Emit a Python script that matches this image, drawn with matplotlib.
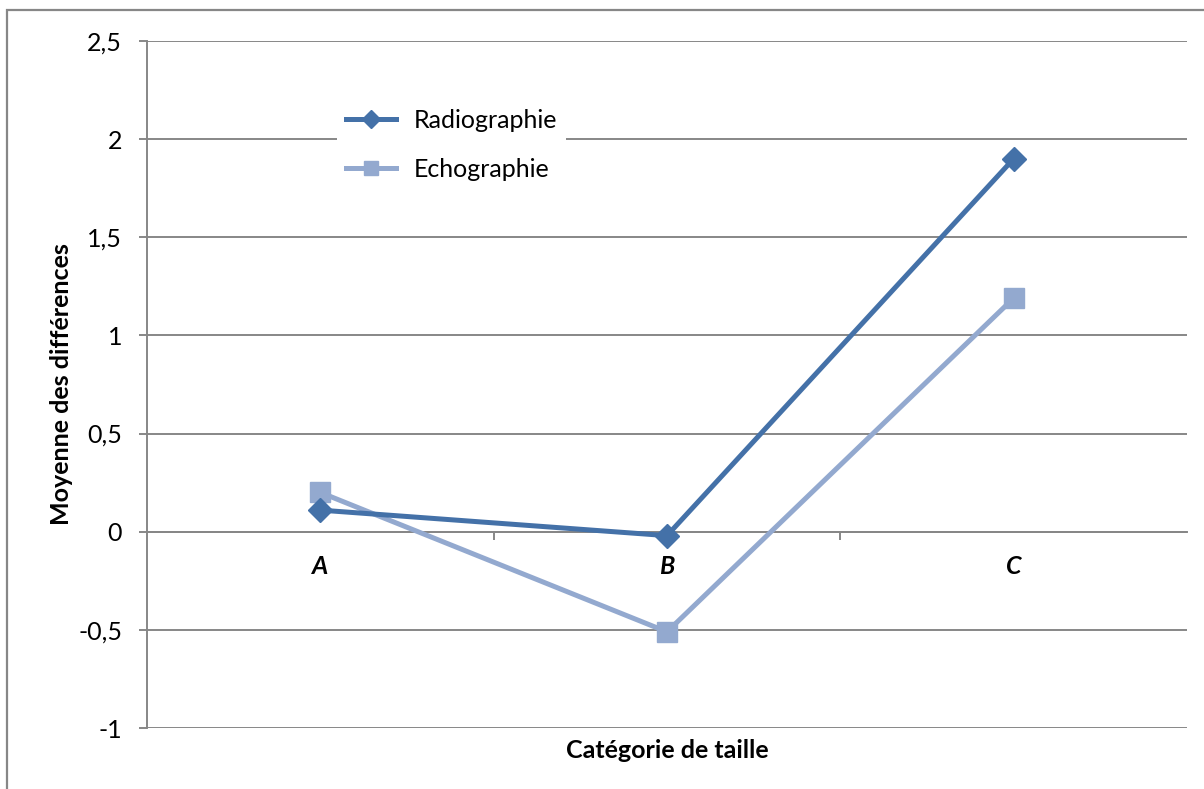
import matplotlib
matplotlib.use("Agg")
import matplotlib.pyplot as plt
from matplotlib.patches import Rectangle

# Data
categories = ["A", "B", "C"]
radiographie = [0.11, -0.02, 1.90]
echographie = [0.20, -0.51, 1.19]
y_ticks = [-1, -0.5, 0, 0.5, 1, 1.5, 2, 2.5]
y_tick_labels = ["-1", "-0,5", "0", "0,5", "1", "1,5", "2", "2,5"]

plt.rcParams["font.family"] = ["Lato", "DejaVu Sans"]

W, H = 1204, 789
fig = plt.figure(figsize=(W / 100, H / 100), dpi=100)
fig.patch.set_facecolor("white")

grid_col = "#878787"
radio_col = "#4471A8"
echo_col = "#93A9CF"
fs = 18

# Outer chart frame (top and left edges)
fig.add_artist(Rectangle((7 / W, -0.2), 1.5, 1.2 - 10 / H, transform=fig.transFigure,
                         fill=False, edgecolor=grid_col, linewidth=1.6))

left, right, top, bottom = 147, 1187, 41, 728
ax = fig.add_axes([left / W, 1 - bottom / H, (right - left) / W, (bottom - top) / H])

x = list(range(len(categories)))
ax.set_xlim(-0.5, len(categories) - 0.5)
ax.set_ylim(-1, 2.5)

ax.set_yticks(y_ticks)
ax.set_yticklabels(y_tick_labels, fontsize=fs)
ax.yaxis.grid(True, color=grid_col, linewidth=1.4)
ax.set_axisbelow(True)
ax.tick_params(axis="y", length=6, width=1.4, color=grid_col, pad=12)

for s in ["top", "right"]:
    ax.spines[s].set_visible(False)
ax.spines["left"].set_color(grid_col)
ax.spines["left"].set_linewidth(1.4)
ax.spines["bottom"].set_position(("data", 0))
ax.spines["bottom"].set_color(grid_col)
ax.spines["bottom"].set_linewidth(1.4)

# Category boundaries as ticks on the zero line, category names as minor labels
ax.set_xticks([i + 0.5 for i in x[:-1]])
ax.set_xticklabels([])
ax.tick_params(axis="x", which="major", length=6, width=1.4, color=grid_col, direction="out")
ax.set_xticks(x, minor=True)
ax.set_xticklabels(categories, minor=True, fontsize=fs, fontweight="bold", fontstyle="italic")
ax.tick_params(axis="x", which="minor", length=0, pad=17)

ax.plot(x, radiographie, color=radio_col, linewidth=3.6, marker="D", markersize=12,
        label="Radiographie", zorder=4, clip_on=False)
ax.plot(x, echographie, color=echo_col, linewidth=3.6, marker="s", markersize=14,
        label="Echographie", zorder=3, clip_on=False)

ax.set_ylabel("Moyenne des différences", fontsize=fs, fontweight="bold")
ax.yaxis.set_label_coords((73 - left) / (right - left), 0.5)
fig.text((left + right) / 2 / W, 1 - 750 / H, "Catégorie de taille", fontsize=fs,
         fontweight="bold", ha="center", va="center")

leg = ax.legend(loc="upper left", bbox_to_anchor=((337 - left) / (right - left), (bottom - 100) / (bottom - top)),
                frameon=True, fancybox=False, facecolor="white", edgecolor="white", framealpha=1,
                fontsize=fs, handlelength=2.0, handletextpad=0.7, labelspacing=1.05,
                borderpad=0.35, borderaxespad=0, markerscale=0.75)
leg.get_frame().set_linewidth(0)
leg.set_zorder(10)

fig.savefig("out.png", dpi=100)
